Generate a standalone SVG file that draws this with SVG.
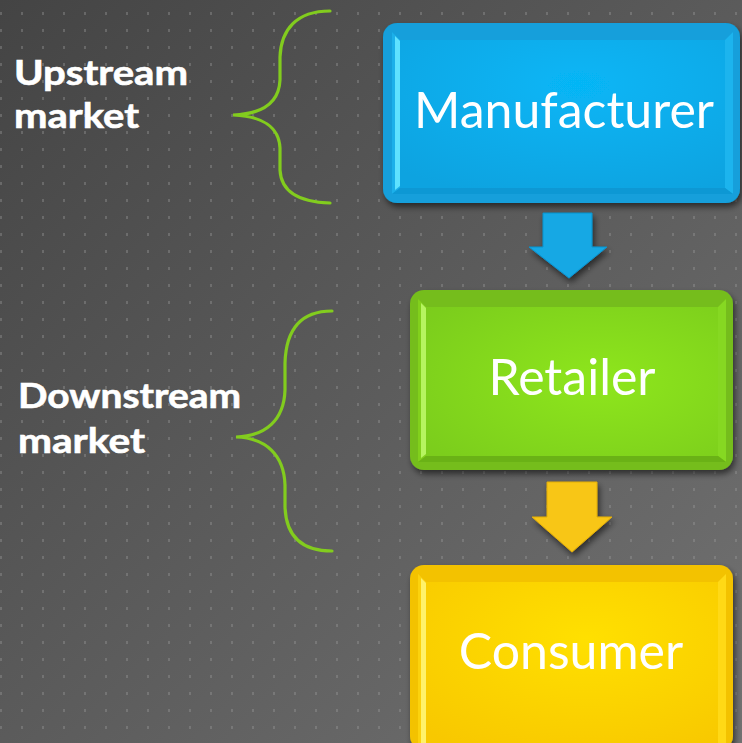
<svg xmlns="http://www.w3.org/2000/svg" width="742" height="743" viewBox="0 0 742 743">
  <defs>
    <linearGradient id="bg" x1="0" y1="0" x2="1" y2="1">
      <stop offset="0" stop-color="#444444"/>
      <stop offset="1" stop-color="#727272"/>
    </linearGradient>
    <pattern id="dots" x="0" y="12" width="21" height="17" patternUnits="userSpaceOnUse">
      <rect x="0" y="0" width="2" height="3" fill="#9a9a9a" fill-opacity="0.38"/>
    </pattern>
    <filter id="shadow" x="-10%" y="-10%" width="125%" height="130%">
      <feGaussianBlur in="SourceAlpha" stdDeviation="3"/>
      <feOffset dx="2" dy="4" result="b"/>
      <feComponentTransfer><feFuncA type="linear" slope="0.55"/></feComponentTransfer>
      <feMerge><feMergeNode/><feMergeNode in="SourceGraphic"/></feMerge>
    </filter>
    <radialGradient id="blueFace" cx="0.55" cy="0.3" r="0.8">
      <stop offset="0" stop-color="#06b6f6"/>
      <stop offset="1" stop-color="#0ea3e0"/>
    </radialGradient>
    <radialGradient id="greenFace" cx="0.6" cy="0.5" r="0.8">
      <stop offset="0" stop-color="#8ee61c"/>
      <stop offset="1" stop-color="#7acb1e"/>
    </radialGradient>
    <radialGradient id="yellowFace" cx="0.55" cy="0.35" r="0.8">
      <stop offset="0" stop-color="#ffe000"/>
      <stop offset="1" stop-color="#f8c800"/>
    </radialGradient>
    <style>
      .label { font-family: "Lato", "Open Sans", "Liberation Sans", sans-serif; fill: #ffffff; }
      .side { font-weight: 700; font-size: 35px; stroke: #ffffff; stroke-width: 0.6; }
      .node { font-size: 50px; text-anchor: middle; }
      .brace { fill: none; stroke: #82cc1e; stroke-width: 3.2; stroke-linecap: round; }
      .blue-edge { fill: #129fdb; }
      .green-edge { fill: #74bd1b; }
      .yellow-edge { fill: #f3c204; }
    </style>
  </defs>

  <!-- background with dot grid -->
  <rect width="742" height="743" fill="url(#bg)"/>
  <rect width="742" height="743" fill="url(#dots)"/>

  <!-- side labels and braces -->
  <g id="upstream">
    <text class="label side" x="14" y="85" textLength="174" lengthAdjust="spacingAndGlyphs">Upstream</text>
    <text class="label side" x="14" y="128" textLength="125" lengthAdjust="spacingAndGlyphs">market</text>
    <path class="brace" d="M330,11 C296,11 281,30 280,57 L280,80 C279,103 262,114 233,115 C262,116 279,127 280,148 L280,170 C281,190 296,202 330,203"/>
  </g>
  <g id="downstream">
    <text class="label side" x="18" y="408" textLength="223" lengthAdjust="spacingAndGlyphs">Downstream</text>
    <text class="label side" x="18" y="453" textLength="127" lengthAdjust="spacingAndGlyphs">market</text>
    <path class="brace" d="M332,311 C300,311 286,330 285,363 L285,390 C284,420 266,436 236,437 C266,438 284,455 285,485 L285,507 C286,535 300,551 332,551"/>
  </g>

  <!-- connectors -->
  <g id="connectors" filter="url(#shadow)">
    <polygon points="543,213 592,213 592,247 607,247 569,278 529,247 543,247" fill="#12a8e4" stroke="#0d93cf" stroke-width="1"/>
    <polygon points="547,482 597,482 597,517 612,517 572,552 532,517 547,517" fill="#f8c612" stroke="#e2ad08" stroke-width="1"/>
  </g>

  <!-- Manufacturer -->
  <g id="manufacturer" filter="url(#shadow)">
    <rect x="383" y="23" width="357" height="180" rx="14" class="blue-edge"/>
    <polygon points="392,32 400,40 400,188 392,194" fill="#1ab0ea"/>
    <polygon points="395,36 400,41 400,186 395,190" fill="#5fe2ff"/>
    <polygon points="733,32 725,40 725,188 733,194" fill="#1cb4ee"/>
    <polygon points="392,194 733,194 725,188 400,188" fill="#0e98d4"/>
    <rect x="400" y="40" width="325" height="148" fill="url(#blueFace)"/>
    <text class="label node" x="564" y="128">Manufacturer</text>
  </g>

  <!-- Retailer -->
  <g id="retailer" filter="url(#shadow)">
    <rect x="410" y="290" width="323" height="180" rx="14" class="green-edge"/>
    <polygon points="418,299 426,307 426,456 418,462" fill="#82d01e"/>
    <polygon points="421,303 426,308 426,454 421,458" fill="#b6f460"/>
    <polygon points="726,299 718,307 718,456 726,462" fill="#86d820"/>
    <polygon points="418,462 726,462 718,456 426,456" fill="#6bb216"/>
    <rect x="426" y="307" width="292" height="149" fill="url(#greenFace)"/>
    <text class="label node" x="572" y="395">Retailer</text>
  </g>

  <!-- Consumer -->
  <g id="consumer" filter="url(#shadow)">
    <rect x="410" y="565" width="323" height="185" rx="14" class="yellow-edge"/>
    <polygon points="418,574 426,582 426,743 418,743" fill="#fcd20a"/>
    <polygon points="421,578 426,583 426,743 421,743" fill="#fff26a"/>
    <polygon points="726,574 718,582 718,743 726,743" fill="#ffd914"/>
    <rect x="426" y="582" width="292" height="161" fill="url(#yellowFace)"/>
    <text class="label node" x="571" y="669">Consumer</text>
  </g>
</svg>
